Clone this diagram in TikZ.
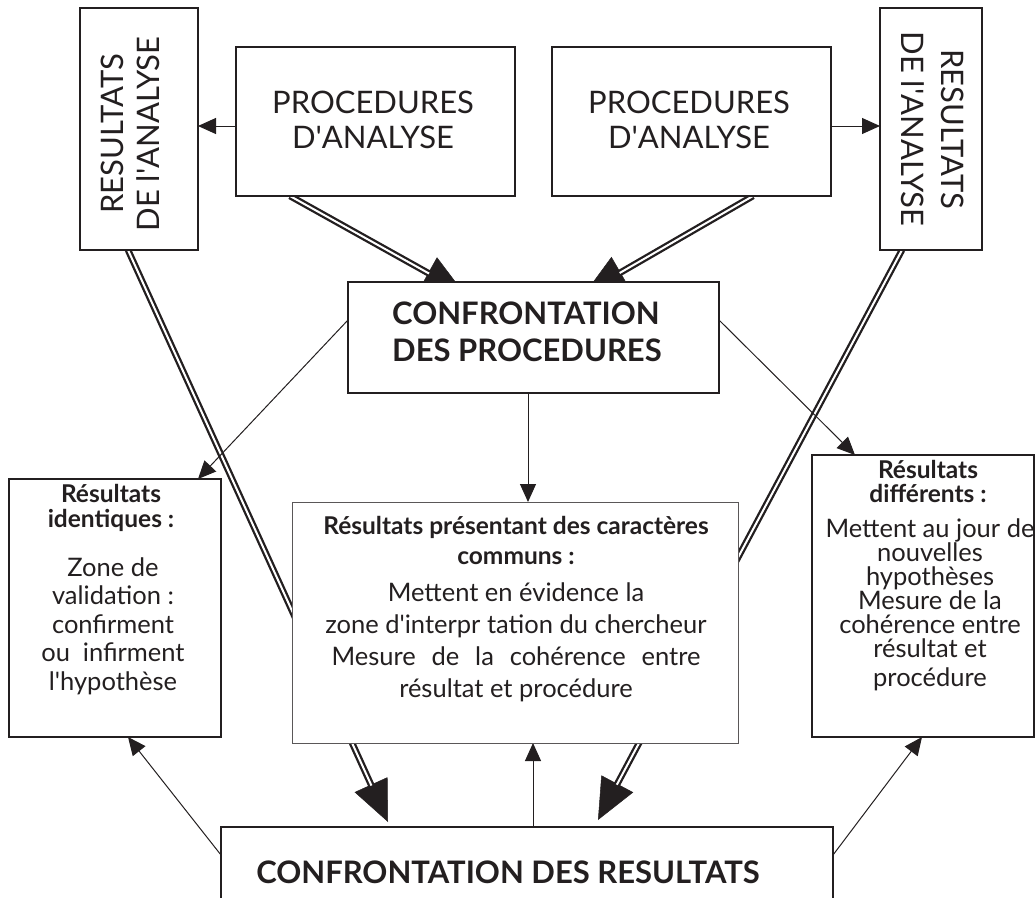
\documentclass[tikz,border=0pt]{standalone}
\usepackage{fontspec}
\setmainfont{Lato}
\usetikzlibrary{arrows.meta,calc,backgrounds}
\definecolor{ink}{RGB}{35,31,32}
\newcommand{\ap}{\textquotesingle}
\tikzset{
  box/.style={draw=ink, line width=1.5pt, fill=white, inner sep=0pt, outer sep=0pt, rectangle},
  cbox/.style={box, draw=ink!75, line width=0.9pt},
  tx/.style={inner sep=0pt, align=center, text=ink},
  arr/.style={draw=ink, line width=1pt, -{Triangle[length=18pt,width=16pt]}},
  dbl/.style={double, draw=ink, line width=2.3pt, double distance=2pt},
  bighead/.style={draw=ink, fill=ink, line width=0.5pt, -{Triangle[length=41pt,width=36pt]}},
}
\begin{document}
\begin{tikzpicture}[x=1pt,y=-1pt]
\useasboundingbox (0,0) rectangle (1035,897);
% boxes
\node[box, minimum width=118, minimum height=242] (lv) at (139,129) {};
\node[box, minimum width=279, minimum height=149] (pl) at (375.5,121.5) {};
\node[box, minimum width=279, minimum height=149] (pr) at (691.5,121.5) {};
\node[box, minimum width=102, minimum height=242] (rv) at (931,129) {};
\node[box, minimum width=371, minimum height=111] (cp) at (533.5,337.5) {};
\node[box, minimum width=212, minimum height=258] (li) at (115,608) {};
\node[cbox, minimum width=446, minimum height=241] (cb) at (515,622.5) {};
\node[box, minimum width=222, minimum height=282] (ri) at (923,596) {};
\node[box, minimum width=612, minimum height=108] (bb) at (527,881) {};
% texts
\node[tx, font=\fontsize{31}{35}\selectfont] (plt) at (373,119.5) {PROCEDURES\\D\ap ANALYSE};
\node[tx, font=\fontsize{31}{35}\selectfont] (prt) at (689,119.5) {PROCEDURES\\D\ap ANALYSE};
\node[tx, rotate=90, font=\fontsize{31}{36}\selectfont] (lvt) at (130.5,134) {RESULTATS\\DE l\ap ANALYSE};
\node[tx, rotate=-90, font=\fontsize{31}{40}\selectfont] (rvt) at (933,129) {RESULTATS\\DE l\ap ANALYSE};
\node[tx, align=left, anchor=west, font=\bfseries\fontsize{31}{37}\selectfont] (cpt) at (392,331.5) {CONFRONTATION\\DES PROCEDURES};
\node[tx, font=\bfseries\fontsize{24.5}{25}\selectfont] (lih) at (111,508) {Résultats\\identiques :};
\node[tx, font=\fontsize{25.5}{28.5}\selectfont] (lib) at (113,626) {Zone de\\validation :\\confirment\\ou\hspace{0.5em}infirment\\l\ap hypothèse};
\node[tx, font=\bfseries\fontsize{24.5}{30}\selectfont] (cbh) at (516,540) {Résultats présentant des caractères\\communs :};
\node[tx, font=\fontsize{25.5}{32}\selectfont] (cbt) at (516,642.5) {Mettent en évidence la\\zone d\ap interpr tation du chercheur\\\makebox[369pt][s]{Mesure de la cohérence entre}\\résultat et procédure};
\node[tx, font=\bfseries\fontsize{24.5}{24}\selectfont] (rih) at (928,481) {Résultats\\différents :};
\node[tx, font=\fontsize{25.5}{24}\selectfont] (rit) at (930,605) {Mettent au jour de\\nouvelles\\hypothèses\\Mesure de la\\cohérence entre\\résultat et\\[5pt]procédure};
\node[tx, font=\bfseries\fontsize{31}{37}\selectfont] (bbt) at (508,872) {CONFRONTATION DES RESULTATS};
% connectors
\begin{scope}[on background layer]
  \coordinate (p1) at ($(pl.west)+(0,4.5)$);
  \draw[arr] (p1) -- (p1 -| lv.east);
  \coordinate (p2) at ($(pr.east)+(0,4.5)$);
  \draw[arr] (p2) -- (p2 -| rv.west);
  % double arrows
  \coordinate (d1) at ($(pl.south west)+(54,0)$);
  \coordinate (t1) at ($(cp.north west)+(116,11)$);
  \coordinate (d2) at ($(pr.south west)+(201,0)$);
  \coordinate (t2) at ($(cp.north west)+(237,11)$);
  \coordinate (d3) at ($(lv.south west)+(48,0)$);
  \coordinate (t3) at ($(bb.north west)+(167,-5)$);
  \coordinate (d4) at ($(rv.south west)+(22,0)$);
  \coordinate (t4) at ($(bb.north west)+(377,-7)$);
  \foreach \s/\t in {d1/t1,d2/t2,d3/t3,d4/t4}{
    \draw[bighead] (\s) -- (\t);
    \draw[dbl, shorten >=40pt] (\s) -- (\t);
  }
  % thin arrows
  \coordinate (c1) at ($(cp.north west)+(0,38)$);
  \coordinate (c1t) at ($(li.north west)+(189,0)$);
  \draw[arr] (c1) -- (c1t);
  \coordinate (c2) at ($(cp.north east)+(0,38)$);
  \coordinate (c2t) at ($(ri.north west)+(43,0)$);
  \draw[arr] (c2) -- (c2t);
  \coordinate (c3) at ($(cp.south)+(-5.5,0)$);
  \draw[arr] (c3) -- (c3 |- cb.north);
  \coordinate (c4) at ($(bb.north)+(6,0)$);
  \draw[arr] (c4) -- (c4 |- cb.south);
  \coordinate (c5) at ($(bb.north west)+(0,28)$);
  \coordinate (c5t) at ($(li.south west)+(119,0)$);
  \draw[arr] (c5) -- (c5t);
  \coordinate (c6) at ($(bb.north east)+(0,28)$);
  \coordinate (c6t) at ($(ri.south west)+(110,0)$);
  \draw[arr] (c6) -- (c6t);
\end{scope}
\end{tikzpicture}
\end{document}
